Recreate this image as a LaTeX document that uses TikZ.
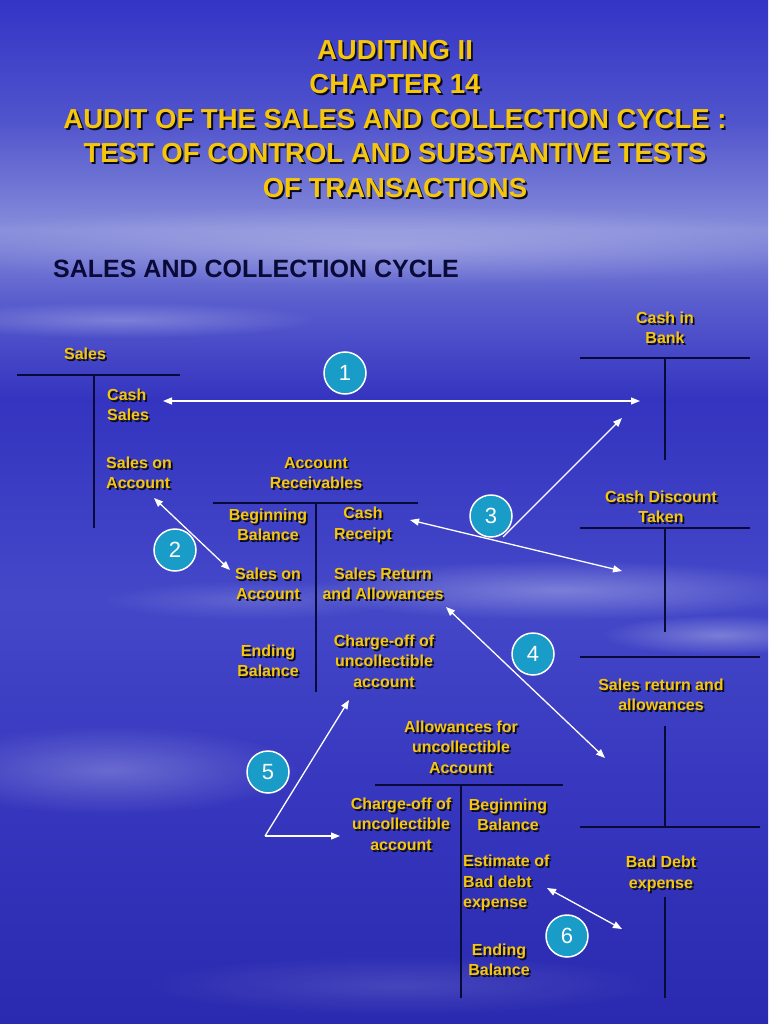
\documentclass[tikz,border=0pt]{standalone}
\usepackage{fontspec}
\setmainfont{Liberation Sans}
\usetikzlibrary{arrows.meta,fadings,positioning}
\definecolor{gold}{HTML}{F5C60A}
\definecolor{navy}{HTML}{0A0A38}
\definecolor{shadowc}{HTML}{0A0A1E}
\definecolor{circ}{HTML}{1A9CC8}
\definecolor{skyA}{HTML}{3434C6}
\definecolor{skyB}{HTML}{5054CC}
\definecolor{skyC}{HTML}{868CDA}
\definecolor{skyD}{HTML}{5A5ECE}
\definecolor{skyE}{HTML}{3434C0}
\definecolor{skyF}{HTML}{4448C8}
\definecolor{skyG}{HTML}{3636BE}
\definecolor{skyH}{HTML}{2A2AB0}
\pgfdeclareverticalshading{sky}{100bp}{color(0bp)=(skyH); color(25bp)=(skyH);
  color(35.9bp)=(skyG); color(45.7bp)=(skyF); color(55.5bp)=(skyE);
  color(60.4bp)=(skyD); color(63.8bp)=(skyC); color(69.1bp)=(skyB);
  color(75bp)=(skyA); color(100bp)=(skyA)}
\tikzfading[name=soft, inner color=transparent!0, outer color=transparent!100]
% label with a drop shadow
\newcommand\shlabel[4][]{%
  \node[txtsh,#1] (#2-sh) at (#3) {#4};
  \node[txt,#1] (#2) at (#3) {#4};}

\begin{document}
\begin{tikzpicture}[x=1pt,y=-1pt,
    txt/.style={font=\bfseries\fontsize{16}{20.5}\selectfont,text=gold,align=center,inner sep=0pt},
    txtsh/.style={txt,text=shadowc,xshift=1.8pt,yshift=-1.8pt},
    tline/.style={draw=navy,line width=2pt},
    numc/.style={circle,draw=white,line width=1.5pt,fill=circ,minimum size=42pt,inner sep=0pt,
      text=white,font=\fontsize{22}{22}\selectfont},
    arr/.style={draw=white,line width=1.3pt,-{Triangle[length=9pt,width=7pt]}},
    darr/.style={arr,{Triangle[length=9pt,width=7pt]}-{Triangle[length=9pt,width=7pt]}},
    cloud/.style={fill=white,path fading=soft}]
  % background sky
  \shade[shading=sky] (0,0) rectangle (768,1024);
  \useasboundingbox (0,0) rectangle (768,1024);
  \foreach \cx/\cy/\rx/\ry/\op in {384/245/500/40/0.25,120/320/200/18/0.25,560/590/260/30/0.3,
      110/770/190/45/0.25,720/635/120/20/0.3,400/985/260/30/0.12,250/600/150/20/0.15}
    \fill[cloud,opacity=\op] (\cx,\cy) ellipse [x radius=\rx pt,y radius=\ry pt];

  % titles
  \shlabel[font=\bfseries\fontsize{27.5}{34.5}\selectfont,txtsh/.append style={xshift=0.7pt,yshift=-0.7pt}]{title}{395,119}{AUDITING II\\CHAPTER 14\\AUDIT OF THE SALES AND COLLECTION CYCLE :\\TEST OF CONTROL AND SUBSTANTIVE TESTS\\OF TRANSACTIONS}
  \node[font=\bfseries\fontsize{25}{25}\selectfont,text=navy,anchor=west,inner sep=0pt] (cycle) at (53,269) {SALES AND COLLECTION CYCLE};

  % Sales
  \shlabel{sales}{85,354}{Sales}
  \draw[tline] (17,375) -- (180,375);
  \draw[tline] (94,375) -- (94,528);
  \shlabel[align=left,anchor=west]{cashsales}{107,405}{Cash\\Sales}
  \shlabel[align=left,anchor=west]{salesacc}{106,473}{Sales on\\Account}

  % Cash in Bank
  \shlabel{bank}{665,328}{Cash in\\Bank}
  \draw[tline] (580,358) -- (750,358);
  \draw[tline] (665,358) -- (665,460);

  % Cash Discount Taken
  \shlabel{disc}{661,507}{Cash Discount\\Taken}
  \draw[tline] (580,528) -- (750,528);
  \draw[tline] (665,528) -- (665,632);

  % Sales return and allowances
  \draw[tline] (580,657) -- (760,657);
  \shlabel{sret}{661,695}{Sales return and\\allowances}
  \draw[tline] (665,726) -- (665,827);
  \draw[tline] (580,827) -- (760,827);

  % Bad Debt expense
  \shlabel{bde}{661,874}{Bad Debt\\expense}
  \draw[tline] (665,897) -- (665,998);

  % Account Receivables
  \shlabel{ar}{316,473}{Account\\Receivables}
  \draw[tline] (213,503) -- (418,503);
  \draw[tline] (316,503) -- (316,692);
  \shlabel{arbeg}{268,525}{Beginning\\Balance}
  \shlabel{arsal}{268,584}{Sales on\\Account}
  \shlabel{arend}{268,661}{Ending\\Balance}
  \shlabel{arcash}{363,525}{Cash\\Receipt}
  \shlabel{arret}{383,584}{Sales Return\\and Allowances}
  \shlabel{archg}{384,661}{Charge-off of\\uncollectible\\account}

  % Allowances for uncollectible Account
  \shlabel{afu}{461,747}{Allowances for\\uncollectible\\Account}
  \draw[tline] (375,785) -- (563,785);
  \draw[tline] (461,785) -- (461,998);
  \shlabel{afuchg}{401,824}{Charge-off of\\uncollectible\\account}
  \shlabel{afubeg}{508,815}{Beginning\\Balance}
  \shlabel[align=left,anchor=west]{afuest}{463,883}{Estimate of\\Bad debt\\expense}
  \shlabel{afuend}{499,960}{Ending\\Balance}

  % step numbers
  \node[numc] (n1) at (345,373) {1};
  \node[numc] (n2) at (175,550) {2};
  \node[numc] (n3) at (491,516) {3};
  \node[numc] (n4) at (533,654) {4};
  \node[numc] (n5) at (268,772) {5};
  \node[numc] (n6) at (567,936) {6};

  % arrow ends
  \coordinate (a1s) at (163,401);
  \coordinate (a1e) at (640,401);
  \coordinate (a2s) at (154,498);
  \coordinate (a2e) at (230,570);
  \coordinate (a3o) at (503,537);
  \coordinate (a3e) at (622,418);
  \coordinate (a3s) at (410,520);
  \coordinate (a3t) at (622,571);
  \coordinate (a4s) at (446,607);
  \coordinate (a4e) at (605,758);
  \coordinate (a5o) at (265,836);
  \coordinate (a5u) at (349,700);
  \coordinate (a5r) at (340,836);
  \coordinate (a6s) at (547,888);
  \coordinate (a6e) at (622,929);

  \draw[darr] (a1s) -- (a1e);
  \draw[darr] (a2s) -- (a2e);
  \draw[arr] (a3o) -- (a3e);
  \draw[darr] (a3s) -- (a3t);
  \draw[darr] (a4s) -- (a4e);
  \draw[arr] (a5o) -- (a5u);
  \draw[arr] (a5o) -- (a5r);
  \draw[darr] (a6s) -- (a6e);
\end{tikzpicture}
\end{document}
